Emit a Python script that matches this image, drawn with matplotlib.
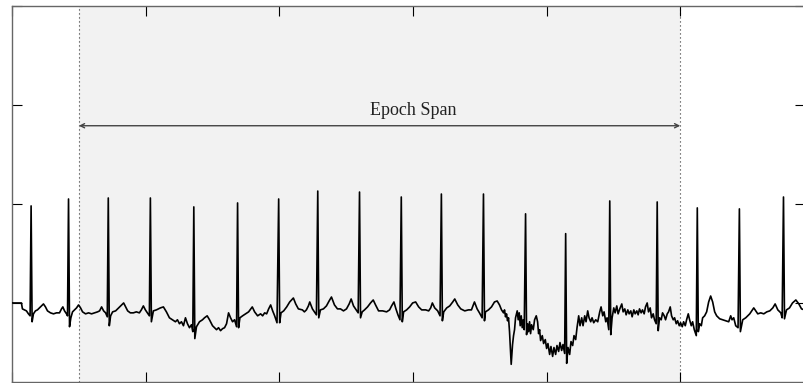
import matplotlib.pyplot as plt
import numpy as np

FS = 200  # sampling rate, Hz

# ECG trace: sample index and amplitude (mV), one line per beat
sample_idx = [
    0, 28, 31, 37, 43, 49, 54, 57, 60,
    64, 70, 76, 85, 94, 100, 106, 115, 124, 133, 142, 148, 152, 157, 163, 166, 169, 172,
    176, 181, 187, 193, 199, 205, 211, 220, 229, 238, 247, 256, 262, 268, 274, 280, 285, 288, 291,
    295, 301, 310, 319, 328, 334, 340, 346, 354, 363, 372, 381, 387, 393, 399, 405, 411, 414, 417,
    423, 432, 444, 453, 462, 471, 480, 489, 495, 501, 507, 513, 519, 525, 531, 537, 541, 544, 547,
    552, 561, 570, 576, 584, 591, 600, 606, 612, 618, 624, 630, 636, 642, 648, 654, 660, 666, 672, 675, 678,
    682, 690, 699, 708, 719, 726, 735, 744, 750, 756, 762, 768, 774, 780, 786, 793, 798, 801,
    805, 813, 822, 831, 842, 849, 857, 869, 875, 881, 887, 891, 899, 905, 911, 915, 918,
    923, 932, 941, 949, 956, 965, 974, 983, 992, 1001, 1009, 1015, 1022, 1028, 1036, 1040, 1043,
    1048, 1055, 1064, 1073, 1081, 1088, 1097, 1109, 1121, 1130, 1136, 1143, 1149, 1155, 1161, 1165, 1168,
    1172, 1181, 1190, 1199, 1208, 1217, 1226, 1238, 1247, 1253, 1258, 1265, 1274, 1281, 1285, 1288,
    1292, 1301, 1310, 1319, 1325, 1334, 1343, 1355, 1366, 1375, 1384, 1392, 1399, 1407, 1411, 1414,
    1417, 1426, 1435, 1444, 1452, 1459, 1465, 1471, 1474, 1477, 1480, 1483, 1486, 1489, 1494,
    1498, 1501, 1504, 1507, 1512, 1515, 1518, 1521, 1524, 1527, 1530, 1533, 1537, 1540,
    1543, 1546, 1549, 1552, 1555, 1560, 1564, 1569, 1573, 1576, 1579, 1582, 1587, 1591, 1596,
    1600, 1604, 1609, 1613, 1618, 1622, 1627, 1631, 1636, 1640, 1645, 1649, 1654, 1657, 1660,
    1664, 1669, 1673, 1678, 1682, 1687, 1691, 1696, 1700, 1705, 1709, 1714, 1718, 1723, 1727,
    1732, 1736, 1741, 1747, 1753, 1759, 1763, 1768, 1772, 1777, 1781, 1786, 1789, 1792,
    1796, 1801, 1805, 1810, 1814, 1819, 1825, 1829, 1834, 1838, 1843, 1847, 1852, 1856, 1861, 1865,
    1870, 1874, 1878, 1883, 1887, 1892, 1896, 1901, 1905, 1910, 1914, 1919, 1923, 1928, 1931, 1934,
    1938, 1943, 1947, 1952, 1956, 1961, 1965, 1970, 1974, 1979, 1983, 1988, 1992, 1997,
    2001, 2006, 2010, 2015, 2019, 2024, 2028, 2033, 2037, 2042, 2048, 2051, 2054,
    2058, 2063, 2067, 2073, 2079, 2085, 2091, 2097, 2103, 2109, 2118, 2127, 2136, 2145, 2151,
    2155, 2160, 2166, 2173, 2177, 2180,
    2187, 2196, 2208, 2214, 2220, 2226, 2232, 2241, 2250, 2259, 2268, 2277, 2284, 2292, 2301, 2305, 2309, 2312,
    2318, 2327, 2336, 2346, 2355, 2363, 2372, 2381,
]
ecg_mv = [
    0.00, 0.00, -0.06, -0.07, -0.08, -0.11, -0.13, 0.98, -0.19,
    -0.11, -0.08, -0.07, -0.04, -0.01, -0.04, -0.08, -0.10, -0.11, -0.10, -0.10, -0.06, -0.04, -0.08, -0.11, -0.13, 1.05, -0.24,
    -0.15, -0.09, -0.07, -0.05, -0.02, -0.05, -0.09, -0.11, -0.10, -0.11, -0.10, -0.09, -0.08, -0.04, -0.08, -0.10, -0.14, 1.06, -0.23,
    -0.13, -0.09, -0.08, -0.05, -0.02, 0.00, -0.04, -0.08, -0.10, -0.10, -0.09, -0.10, -0.07, -0.03, -0.07, -0.10, -0.13, 1.06, -0.19,
    -0.08, -0.07, -0.05, -0.04, -0.09, -0.15, -0.17, -0.19, -0.17, -0.21, -0.19, -0.23, -0.15, -0.21, -0.25, -0.22, -0.29, 0.97, -0.36,
    -0.24, -0.19, -0.17, -0.15, -0.13, -0.17, -0.23, -0.25, -0.27, -0.25, -0.28, -0.26, -0.25, -0.21, -0.10, -0.15, -0.19, -0.17, -0.24, 1.01, -0.25,
    -0.15, -0.13, -0.11, -0.09, -0.04, -0.09, -0.13, -0.11, -0.13, -0.10, -0.11, -0.06, -0.02, -0.08, -0.13, -0.20, 1.05, -0.20,
    -0.10, -0.08, -0.04, 0.01, 0.05, -0.01, -0.06, -0.07, -0.09, -0.07, -0.03, 0.01, -0.06, -0.09, -0.12, 1.13, -0.15,
    -0.07, -0.06, -0.03, 0.02, 0.06, -0.02, -0.06, -0.06, -0.08, -0.06, -0.01, 0.04, -0.03, -0.06, -0.10, 1.12, -0.15,
    -0.09, -0.07, -0.04, 0.00, 0.03, -0.02, -0.08, -0.08, -0.09, -0.07, -0.03, 0.01, -0.06, -0.12, -0.17, 1.07, -0.19,
    -0.09, -0.07, -0.04, 0.00, 0.01, -0.04, -0.07, -0.07, -0.08, -0.05, 0.00, -0.05, -0.08, -0.13, 1.10, -0.18,
    -0.09, -0.05, -0.03, 0.01, 0.04, -0.02, -0.06, -0.08, -0.07, -0.07, 0.01, -0.06, -0.10, -0.15, 1.10, -0.18,
    -0.09, -0.07, -0.04, 0.01, 0.02, -0.02, -0.07, -0.10, -0.07, -0.14, -0.11, -0.18, -0.15, -0.29, -0.62,
    -0.42, -0.33, -0.27, -0.15, -0.08, -0.17, -0.10, -0.23, -0.13, -0.25, -0.17, -0.27, 0.90, -0.32,
    -0.21, -0.29, -0.19, -0.31, -0.22, -0.27, -0.17, -0.13, -0.19, -0.31, -0.27, -0.38, -0.33, -0.41, -0.37,
    -0.46, -0.41, -0.52, -0.44, -0.54, -0.45, -0.52, -0.43, -0.49, -0.40, -0.48, -0.42, -0.51, 0.70, -0.61,
    -0.45, -0.52, -0.39, -0.43, -0.33, -0.37, -0.25, -0.13, -0.23, -0.15, -0.23, -0.13, -0.19, -0.08, -0.15,
    -0.19, -0.15, -0.20, -0.17, -0.19, -0.09, -0.04, -0.13, -0.09, -0.19, -0.15, -0.27, 1.03, -0.32,
    -0.15, -0.05, -0.10, -0.03, -0.11, -0.06, -0.01, -0.09, -0.06, -0.12, -0.07, -0.11, -0.08, -0.14, -0.07, -0.11,
    -0.08, -0.12, -0.06, -0.10, -0.07, -0.11, -0.04, 0.00, -0.09, -0.05, -0.15, -0.11, -0.17, -0.21, 1.02, -0.28,
    -0.15, -0.17, -0.10, -0.13, -0.17, -0.11, -0.09, -0.04, -0.13, -0.17, -0.15, -0.21, -0.18, -0.23,
    -0.20, -0.24, -0.19, -0.23, -0.17, -0.11, -0.17, -0.23, -0.19, -0.27, -0.33, 0.96, -0.29,
    -0.21, -0.23, -0.15, -0.13, -0.09, 0.01, 0.07, 0.01, -0.09, -0.13, -0.16, -0.17, -0.18, -0.19, -0.13,
    -0.17, -0.15, -0.23, -0.25, 0.95, -0.29,
    -0.17, -0.15, -0.11, -0.08, -0.05, -0.08, -0.11, -0.10, -0.11, -0.09, -0.08, -0.05, -0.01, -0.07, -0.10, -0.15, 1.07, -0.16,
    -0.07, -0.05, 0.00, 0.03, -0.01, -0.06, -0.07, -0.06,
]

epoch_start, epoch_end = 1.0, 10.0  # seconds
span_label = "Epoch Span"
span_level = 1.79
label_x = 6.0

x_ticks = [0, 2, 4, 6, 8, 10]
y_ticks = [0, 1, 2, 3]

t = np.asarray(sample_idx) / FS

fig = plt.figure(figsize=(8.04, 3.83), dpi=100)
# right edge sits just past the canvas, so the right spine is clipped
ax = fig.add_axes([0.015, 0.0035, 0.9865, 0.981])

ax.axvspan(epoch_start, epoch_end, color="#f2f2f2", lw=0, zorder=0)
for edge in (epoch_start, epoch_end):
    ax.axvline(edge, color="#333333", lw=0.8, ls=(0, (1, 2.6)), zorder=1)

ax.plot(t, ecg_mv, color="black", lw=1.2, zorder=3)

ax.annotate("", xy=(epoch_start, span_level), xytext=(epoch_end, span_level),
            arrowprops=dict(arrowstyle="<->,head_length=0.3,head_width=0.15",
                            color="#444444", lw=1.0, shrinkA=0, shrinkB=0))
ax.text(label_x, span_level + 0.11, span_label, ha="center", va="baseline",
        family="Liberation Serif", fontsize=13, color="#222222")

ax.set_xlim(0, 11.87)
ax.set_ylim(-0.795, 3.0)
ax.set_xticks(x_ticks)
ax.set_yticks(y_ticks)
ax.tick_params(direction="in", length=7.5, width=0.8, color="black",
               top=True, right=True, labelbottom=False, labelleft=False)
for spine in ax.spines.values():
    spine.set_color("#666666")
    spine.set_linewidth(1.0)

fig.savefig("out.png", dpi=100)
